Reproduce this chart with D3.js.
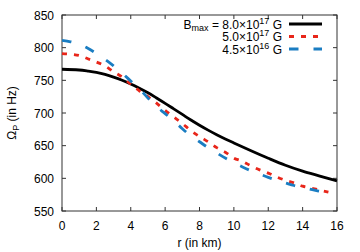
<!DOCTYPE html>
<html><head><meta charset="utf-8">
<script src="https://cdn.jsdelivr.net/npm/d3@7"></script>
<style>
body{margin:0;background:#fff;}
text{font-family:"Liberation Sans",Arial,sans-serif;fill:#000;}
</style></head><body>
<svg id="c" width="360" height="252"></svg>
<script>
const rBlack = [0,1,1.5,2,2.5,3,3.5,4,4.5,5,5.5,6,6.5,7,7.5,8,8.5,9,9.5,10,11,12,13,14,15,16];
const vBlack = [767,765.8,764.1,762,759,755,750.2,744.5,738,731,723,714.8,706.3,697.8,689.3,681.3,673.8,666.8,660.3,654.2,642.3,630.8,620,611,603.5,596];
const rRed = [0,0.5,1,1.5,2,2.5,3,3.5,4,4.5,5,5.5,6,6.5,7,7.5,8,8.5,9,9.5,10,10.5,11,11.5,12,12.5,13,13.5,14,14.5,15,15.5];
const vRed = [791,790,788,783,778,772,763,755,744,734,725,715,704,694,684,673,664,656,647,640,631,626,619,613,608,602,597,593,588,585,582,579];
const rBlue = [0,0.5,1,1.5,2,2.5,3,3.5,4,4.5,5,5.5,6,6.5,7,7.5,8,8.5,9,9.5,10,10.5,11,11.5,12,12.5,13,13.5,14,14.5,15,15.5];
const vBlue = [811,809,805,799,791,782,772,761,749,737,723,710,699,688,676,665,656,647,639,631,624,617.5,611.5,606.5,601.5,597,593,589,586,583,580,577];
const xTicks = [0,2,4,6,8,10,12,14,16];
const yTicks = [550,600,650,700,750,800,850];
const legendLabels = [["8.0","17"],["5.0","17"],["4.5","16"]];

const svg = d3.select("#c");
const L=62, R=337, T=15, B=211;
const x = d3.scaleLinear().domain([0,16]).range([L,R]);
const y = d3.scaleLinear().domain([550,850]).range([B,T]);

// border
svg.append("rect").attr("x",L).attr("y",T).attr("width",R-L).attr("height",B-T)
  .attr("fill","none").attr("stroke","#333").attr("stroke-width",1);

const tl=4;
const gx = svg.append("g");
xTicks.forEach(t=>{
  gx.append("line").attr("x1",x(t)).attr("x2",x(t)).attr("y1",B).attr("y2",B-tl).attr("stroke","#333");
  gx.append("line").attr("x1",x(t)).attr("x2",x(t)).attr("y1",T).attr("y2",T+tl).attr("stroke","#333");
  gx.append("text").attr("x",x(t)).attr("y",230).attr("text-anchor","middle").attr("font-size",12).text(t);
});
const gy = svg.append("g");
yTicks.forEach(t=>{
  gy.append("line").attr("x1",L).attr("x2",L+tl).attr("y1",y(t)).attr("y2",y(t)).attr("stroke","#333");
  gy.append("line").attr("x1",R).attr("x2",R-tl).attr("y1",y(t)).attr("y2",y(t)).attr("stroke","#333");
  gy.append("text").attr("x",54).attr("y",y(t)+4.5).attr("text-anchor","end").attr("font-size",12).text(t);
});

svg.append("text").attr("x",(L+R)/2).attr("y",247).attr("text-anchor","middle").attr("font-size",12).text("r (in km)");
const yl = svg.append("text").attr("transform",`translate(16,${(T+B)/2}) rotate(-90)`).attr("text-anchor","middle").attr("font-size",12);
yl.append("tspan").text("Ω");
yl.append("tspan").attr("dy",3).attr("font-size",9).text("P");
yl.append("tspan").attr("dy",-3).text(" (in Hz)");

const line = d3.line().x(d=>x(d[0])).y(d=>y(d[1])).curve(d3.curveMonotoneX);
const series = [
  {r:rBlack,v:vBlack,color:"#000",dash:null},
  {r:rRed,v:vRed,color:"#e8261a",dash:"5,7"},
  {r:rBlue,v:vBlue,color:"#1a7dc2",dash:"9.5,15"}
];
series.forEach(s=>{
  const p = svg.append("path").datum(s.r.map((r,i)=>[r,s.v[i]])).attr("d",line)
    .attr("fill","none").attr("stroke",s.color).attr("stroke-width",2.8);
  if(s.dash) p.attr("stroke-dasharray",s.dash);
});

// legend
const rows=[24,36.5,49];
series.forEach((s,i)=>{
  const t = svg.append("text").attr("x",282).attr("y",rows[i]+4.5).attr("text-anchor","end").attr("font-size",12);
  if(i===0){
    t.append("tspan").text("B");
    t.append("tspan").attr("dy",2.5).attr("font-size",9).text("max");
    t.append("tspan").attr("dy",-2.5).text(" = ");
  }
  t.append("tspan").text(legendLabels[i][0]+"×10");
  t.append("tspan").attr("dy",-5).attr("font-size",9).text(legendLabels[i][1]);
  t.append("tspan").attr("dy",5).text(" G");
  const l = svg.append("line").attr("x1",289).attr("x2",322).attr("y1",rows[i]).attr("y2",rows[i])
    .attr("stroke",s.color).attr("stroke-width",2.8);
  if(s.dash) l.attr("stroke-dasharray",s.dash);
});
</script></body></html>
